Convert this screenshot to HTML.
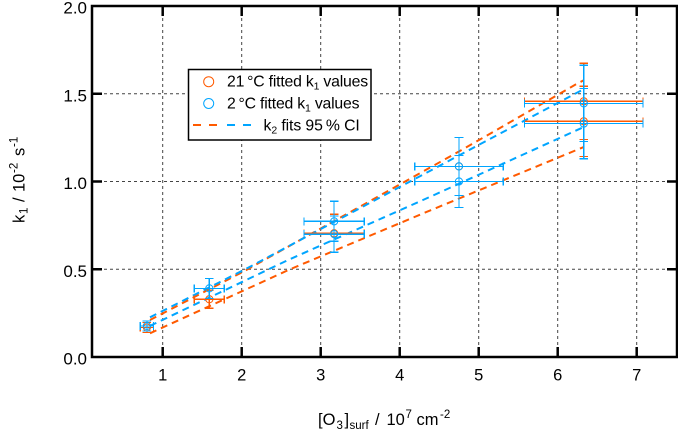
<!DOCTYPE html>
<html>
<head>
<meta charset="utf-8">
<title>k1 vs surface ozone</title>
<style>
html,body{margin:0;padding:0;background:#fff;width:678px;height:430px;overflow:hidden}
svg{display:block;font-family:"Liberation Sans",Arial,sans-serif;fill:#000}
</style>
</head>
<body>
<svg id="chart" width="678" height="430" viewBox="0 0 678 430" xmlns="http://www.w3.org/2000/svg">
  <g id="grid"></g>
  <g id="axes"></g>
  <g id="series"></g>
  <g>
    <rect x="188.5" y="69.5" width="182.5" height="70.5" fill="#fff" stroke="#000" stroke-width="1.5"/>
    <circle cx="208.7" cy="81.7" r="5" fill="none" stroke="#ff5a00" stroke-width="1"/>
    <text x="227" y="86.7" font-size="15.8" letter-spacing="-0.2">21&#8201;°C fitted k<tspan font-size="10.5" dy="3">1</tspan><tspan dy="-3"> values</tspan></text>
    <circle cx="208.7" cy="103.5" r="5" fill="none" stroke="#00a5ff" stroke-width="1"/>
    <text x="227" y="108.7" font-size="15.8" letter-spacing="-0.2">2&#8201;°C fitted k<tspan font-size="10.5" dy="3">1</tspan><tspan dy="-3"> values</tspan></text>
    <line x1="193" y1="125" x2="217" y2="125" stroke="#ff5a00" stroke-width="2" stroke-dasharray="8 8"/>
    <line x1="227" y1="125" x2="251" y2="125" stroke="#00a5ff" stroke-width="2" stroke-dasharray="8 8"/>
    <text x="263.5" y="130.7" font-size="15.8" letter-spacing="-0.1">k<tspan font-size="10.5" dy="3">2</tspan><tspan dy="-3"> fits 95&#8201;% CI</tspan></text>
  </g>
  <text x="318" y="425" font-size="16.5">[O<tspan font-size="11.5" x="336.5" y="429">3</tspan><tspan font-size="16.5" x="344.5" y="425">]</tspan><tspan font-size="11.5" x="349.5" y="429">surf</tspan><tspan x="375" y="425">/</tspan><tspan x="386.5" y="425">10</tspan><tspan font-size="11.5" x="405.5" y="418">7</tspan><tspan x="416.5" y="425">cm</tspan><tspan font-size="11.5" x="440" y="418">-2</tspan></text>
  <text transform="translate(24.3 223) rotate(-90)" font-size="16.5">k<tspan font-size="11.5" x="9" y="3">1</tspan><tspan x="21" y="0">/</tspan><tspan x="31" y="0">10</tspan><tspan font-size="11.5" x="50" y="-7">-2</tspan><tspan x="67" y="0">s</tspan><tspan font-size="11.5" x="76" y="-7">-1</tspan></text>
</svg>
<script>
var xTicks = [1, 2, 3, 4, 5, 6, 7];
var yTicks = ["0.0", "0.5", "1.0", "1.5", "2.0"];

var orangeX = [0.8, 1.59, 3.17, 4.75, 6.33, 6.33];
var orangeY = [0.168, 0.329, 0.705, 1.086, 1.457, 1.343];
var orangeXErr = [0.085, 0.19, 0.38, 0.56, 0.75, 0.75];
var orangeYErr = [0.028, 0.051, 0.108, 0.165, 0.217, 0.2];

var blueX = [0.8, 1.59, 3.17, 3.17, 4.75, 4.75, 6.33, 6.33];
var blueY = [0.177, 0.391, 0.773, 0.70, 1.086, 1.0, 1.445, 1.33];
var blueXErr = [0.085, 0.19, 0.38, 0.38, 0.56, 0.56, 0.75, 0.75];
var blueYErr = [0.028, 0.057, 0.114, 0.103, 0.165, 0.148, 0.217, 0.2];

var orangeUpperX = [0.839, 2.042, 4.797, 6.232, 6.333];
var orangeUpperY = [0.211, 0.492, 1.183, 1.554, 1.578];
var orangeLowerX = [0.839, 2.611, 4.299, 6.333];
var orangeLowerY = [0.135, 0.5, 0.819, 1.197];
var blueUpperX = [0.839, 2.042, 4.975, 6.333];
var blueUpperY = [0.226, 0.499, 1.202, 1.527];
var blueLowerX = [0.839, 2.59, 4.405, 6.333];
var blueLowerY = [0.177, 0.553, 0.917, 1.311];

var ORANGE = "#ff5a00";
var BLUE = "#00a5ff";
var NS = "http://www.w3.org/2000/svg";
var L = 92, R = 677, T = 6, B = 357;

function sx(v) { return 162.7 + (v - 1) * 79; }
function sy(v) { return 357 - v * 175.5; }

function mk(parent, tag, props) {
  var el = document.createElementNS(NS, tag);
  for (var k in props) { el.setAttribute(k, props[k]); }
  parent.appendChild(el);
  return el;
}
function seg(parent, x1, y1, x2, y2, color, w, dash) {
  var el = mk(parent, "line", { x1: x1, y1: y1, x2: x2, y2: y2, stroke: color, "stroke-width": w });
  if (dash) { el.setAttribute("stroke-dasharray", dash); }
  return el;
}

var gridG = document.getElementById("grid");
var axesG = document.getElementById("axes");
var seriesG = document.getElementById("series");

xTicks.forEach(function (t) {
  var px = sx(t);
  var g = seg(gridG, px, T, px, B, "#444", 1, "3 3");
  
  
  var tb = seg(axesG, px, B, px, B - 10, "#000", 2.5);
  
  
  var tt = seg(axesG, px, T, px, T + 10, "#000", 2.5);
  
  
  var lb = mk(axesG, "text", { x: px, y: 380.5, "font-size": "16.5", "text-anchor": "middle" });
  lb.textContent = t;
  
  
});

yTicks.forEach(function (t) {
  var py = sy(parseFloat(t));
  if (py > T + 1 && py < B - 1) {
    var g = seg(gridG, L, py, R, py, "#444", 1, "3 3");
    
    
    var tl = seg(axesG, L, py, L + 10, py, "#000", 2.5);
    
    
    var tr = seg(axesG, R, py, R - 10, py, "#000", 2.5);
    
    
  }
  var lb = mk(axesG, "text", { x: 87, y: py + 7.5, "font-size": "17", "text-anchor": "end" });
  lb.textContent = t;
  
  
});

var frame = mk(axesG, "rect", { x: L, y: T, width: R - L, height: B - T, fill: "none", stroke: "#000", "stroke-width": 2.5 });



function drawFit(xs, ys, color) {
  var pts = xs.map(function (x, i) { return sx(x).toFixed(1) + "," + sy(ys[i]).toFixed(1); }).join(" ");
  var el = mk(seriesG, "polyline", { points: pts, fill: "none", stroke: color, "stroke-width": 2, "stroke-dasharray": "7 5" });
  
  
}
drawFit(orangeUpperX, orangeUpperY, ORANGE);
drawFit(orangeLowerX, orangeLowerY, ORANGE);
drawFit(blueUpperX, blueUpperY, BLUE);
drawFit(blueLowerX, blueLowerY, BLUE);

function drawPoints(xs, ys, xe, ye, color) {
  xs.forEach(function (x, i) {
    var cx = sx(x), cy = sy(ys[i]);
    var x0 = sx(x - xe[i]), x1 = sx(x + xe[i]);
    var y0 = sy(ys[i] - ye[i]), y1 = sy(ys[i] + ye[i]);
    var g = mk(seriesG, "g", {});
    
    
    var bars = mk(g, "g", { "shape-rendering": "crispEdges" });
    seg(bars, x0, cy, x1, cy, color, 1.2);
    seg(bars, cx, y0, cx, y1, color, 1.2);
    seg(bars, x0, cy - 4, x0, cy + 4, color, 1.2);
    seg(bars, x1, cy - 4, x1, cy + 4, color, 1.2);
    seg(bars, cx - 4.3, y0, cx + 4.3, y0, color, 1.2);
    seg(bars, cx - 4.3, y1, cx + 4.3, y1, color, 1.2);
    mk(g, "circle", { cx: cx, cy: cy, r: 3.6, fill: "none", stroke: color, "stroke-width": 1 });
  });
}
drawPoints(orangeX, orangeY, orangeXErr, orangeYErr, ORANGE);
drawPoints(blueX, blueY, blueXErr, blueYErr, BLUE);
</script>
</body>
</html>
